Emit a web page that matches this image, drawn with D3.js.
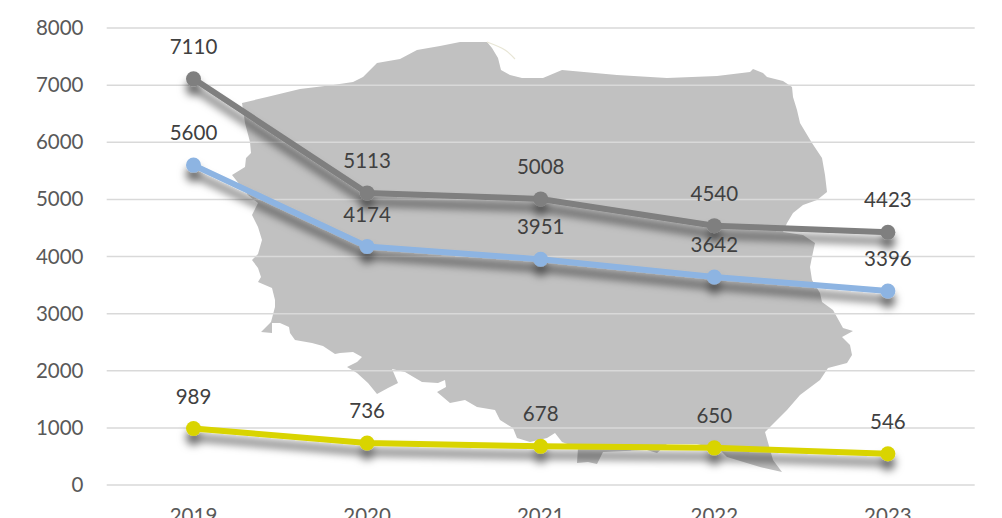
<!DOCTYPE html>
<html><head><meta charset="utf-8">
<script src="https://cdn.jsdelivr.net/npm/d3@7/dist/d3.min.js"></script>
<style>html,body{margin:0;padding:0;background:#fff;overflow:hidden}svg{display:block}text{font-family:Lato,"Open Sans",sans-serif}</style>
</head><body><svg id="c" width="1002" height="518"></svg>
<script>
const years=["2019","2020","2021","2022","2023"];
const seriesGray=[7110,5113,5008,4540,4423];
const seriesBlue=[5600,4174,3951,3642,3396];
const seriesYellow=[989,736,678,650,546];
const yTicks=[0,1000,2000,3000,4000,5000,6000,7000,8000];
const mapOutline=[[242,103],[267,97],[300,89],[333,85],[353,82],[363,77],[377,63],[400,59],[417,50],[440,46],[460,42],[487,42],[492,48],[498,58],[501,70],[510,75],[522,78],[543,78],[562,70],[617,75],[667,78],[717,76],[750,72],[753,69],[763,73],[767,77],[783,81],[792,87],[793,97],[797,110],[800,123],[812,143],[822,158],[825,175],[827,192],[817,200],[803,205],[793,213],[787,223],[783,232],[803,235],[815,243],[812,257],[810,267],[812,280],[820,293],[822,302],[833,310],[843,328],[853,331],[842,337],[850,345],[852,355],[847,363],[828,368],[820,380],[800,395],[787,410],[770,427],[765,432],[773,460],[782,472],[760,467],[727,457],[720,450],[697,444],[667,444],[657,453],[647,450],[603,452],[597,464],[588,462],[577,463],[578,448],[562,442],[555,433],[547,438],[530,442],[517,438],[513,428],[500,420],[495,410],[477,407],[465,400],[450,403],[437,392],[446,387],[445,380],[438,383],[422,382],[405,372],[392,369],[398,383],[388,388],[377,394],[368,383],[357,373],[347,367],[357,362],[362,357],[353,352],[340,353],[335,354],[323,346],[312,343],[295,340],[290,333],[289,327],[280,323],[272,323],[272,333],[261,332],[271,322],[275,307],[275,300],[272,288],[258,282],[261,277],[258,268],[252,260],[258,254],[260,247],[262,240],[258,227],[252,215],[258,203],[248,195],[232,175],[245,167],[246,158],[251,153],[250,142],[245,123]];
const helPeninsula=[[487,42],[505,50],[515,59]];
const series=[{v:seriesGray,c:"#7f7f7f"},{v:seriesBlue,c:"#8db4e2"},{v:seriesYellow,c:"#d9d400"}];

const svg=d3.select("#c");
const x=d3.scaleBand().domain(years).range([106.7,974.7]);
const y=d3.scaleLinear().domain([0,8000]).range([485,28]);
const cx=d=>x(d)+x.bandwidth()/2;
const fontStack="Lato,'Open Sans',sans-serif";

const f=svg.append("defs").append("filter").attr("id","sh").attr("filterUnits","userSpaceOnUse")
 .attr("x",0).attr("y",0).attr("width",1002).attr("height",518);
f.append("feDropShadow").attr("dx",0).attr("dy",9).attr("stdDeviation",4).attr("flood-color","#000").attr("flood-opacity",0.6);

svg.append("path").attr("d",d3.line()(mapOutline)+"Z").attr("fill","#c1c1c1");
svg.append("path").attr("d",d3.line().curve(d3.curveCatmullRom)(helPeninsula)).attr("fill","none").attr("stroke","#e8e6d6").attr("stroke-width",1.2);

svg.append("g").selectAll("line").data(yTicks).join("line")
 .attr("x1",106.7).attr("x2",974.7).attr("y1",d=>y(d)).attr("y2",d=>y(d))
 .attr("stroke","#d9d9d9").attr("stroke-width",1.5);

const ay=svg.append("g").attr("transform","translate(83.5,0)").call(d3.axisLeft(y).tickValues(yTicks).tickSize(0).tickPadding(0).tickFormat(d3.format("d")));
ay.select(".domain").remove();
ay.selectAll("text").attr("font-size",20.5).attr("fill","#595959").style("font-family",fontStack);

const ax=svg.append("g").attr("transform","translate(0,485)").call(d3.axisBottom(x).tickSize(0).tickPadding(23));
ax.select(".domain").remove();
ax.selectAll("text").attr("font-size",20.5).attr("fill","#595959").style("font-family",fontStack);

const line=d3.line().x((d,i)=>cx(years[i])).y(d=>y(d));
series.forEach(s=>{
 const g=svg.append("g").attr("filter","url(#sh)");
 g.append("path").attr("d",line(s.v)).attr("fill","none").attr("stroke",s.c).attr("stroke-width",6);
 g.selectAll("circle").data(s.v).join("circle").attr("cx",(d,i)=>cx(years[i])).attr("cy",d=>y(d)).attr("r",7.5).attr("fill",s.c);
});
series.forEach(s=>{
 svg.append("g").selectAll("text").data(s.v).join("text")
  .attr("x",(d,i)=>cx(years[i])).attr("y",d=>y(d)-25).attr("text-anchor","middle")
  .attr("font-size",20.5).attr("fill","#404040").text(d=>d);
});
</script></body></html>
